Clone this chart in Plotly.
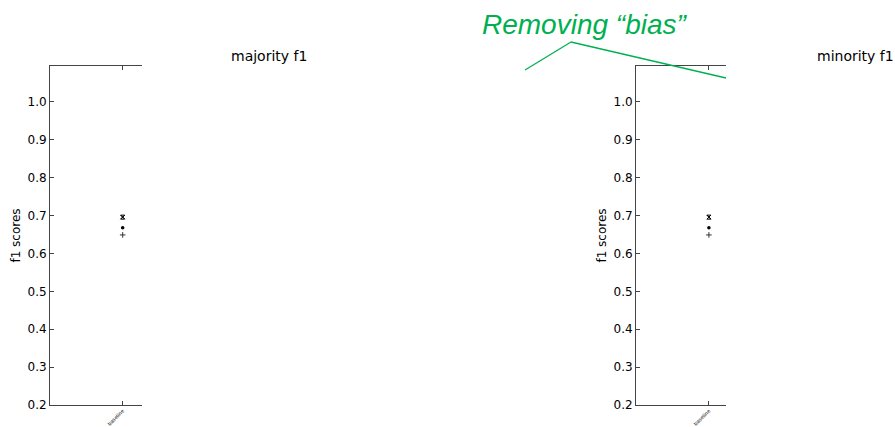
import plotly.graph_objects as go

# Categories and f1 scores per run marker
categories = ["baseline"]
majority_cross = [0.696]
majority_dot = [0.668]
majority_plus = [0.649]
minority_cross = [0.696]
minority_dot = [0.668]
minority_plus = [0.649]

y_ticks = [0.2, 0.3, 0.4, 0.5, 0.6, 0.7, 0.8, 0.9, 1.0]
y_tick_text = ["0.2", "0.3", "0.4", "0.5", "0.6", "0.7", "0.8", "0.9", "1.0"]

W, H = 895, 427


def px_x(p):
    return p / W


def px_y(p):
    return 1 - p / H


fig = go.Figure()

panels = [
    ("x", "y", majority_cross, majority_dot, majority_plus),
    ("x2", "y2", minority_cross, minority_dot, minority_plus),
]
for xa, ya, cross, dot, plus in panels:
    xs = list(range(len(categories)))
    fig.add_trace(go.Scatter(x=xs, y=cross, xaxis=xa, yaxis=ya, mode="markers",
                             marker=dict(symbol="hourglass-open", size=4, color="black",
                                         line=dict(width=1, color="black")),
                             showlegend=False, hoverinfo="skip"))
    fig.add_trace(go.Scatter(x=xs, y=cross, xaxis=xa, yaxis=ya, mode="markers",
                             marker=dict(symbol="x-thin", size=4, color="black",
                                         line=dict(width=1, color="black")),
                             showlegend=False, hoverinfo="skip"))
    fig.add_trace(go.Scatter(x=xs, y=dot, xaxis=xa, yaxis=ya, mode="markers",
                             marker=dict(symbol="circle", size=3.5, color="black"),
                             showlegend=False, hoverinfo="skip"))
    fig.add_trace(go.Scatter(x=xs, y=plus, xaxis=xa, yaxis=ya, mode="markers",
                             marker=dict(symbol="cross-thin", size=4, color="#333333",
                                         line=dict(width=1, color="#333333")),
                             showlegend=False, hoverinfo="skip"))

axis_font = dict(family="DejaVu Sans", size=12, color="black")
line_col = "#444444"

common_x = dict(showline=True, linecolor=line_col, linewidth=1, mirror="ticks",
                ticks="inside", ticklen=4, tickcolor=line_col, showgrid=False, zeroline=False,
                tickvals=[0], ticktext=categories, tickangle=-45, automargin=False,
                tickfont=dict(family="DejaVu Sans", size=5, color="black"), fixedrange=True)
common_y = dict(showline=True, linecolor=line_col, linewidth=1, mirror=False,
                ticks="inside", ticklen=4, tickcolor=line_col, showgrid=False, zeroline=False,
                range=[0.2, 1.095], tickvals=y_ticks, ticktext=y_tick_text,
                tickfont=axis_font, fixedrange=True, automargin=False,
                title=dict(text="f1 scores", font=axis_font, standoff=4))

y_dom = [px_y(405), px_y(66)]

fig.update_layout(
    width=W, height=H,
    margin=dict(l=0, r=0, t=0, b=0, autoexpand=False),
    paper_bgcolor="white", plot_bgcolor="white",
    xaxis=dict(domain=[px_x(50), px_x(142)], range=[-0.79, 0.21], anchor="y", **common_x),
    yaxis=dict(domain=y_dom, anchor="x", **common_y),
    xaxis2=dict(domain=[px_x(636), px_x(726)], range=[-0.81, 0.19], anchor="y2", **common_x),
    yaxis2=dict(domain=y_dom, anchor="x2", **common_y),
)

# Panel titles
fig.add_annotation(x=px_x(269), y=px_y(56), xref="paper", yref="paper", text="majority f1",
                   showarrow=False, font=dict(family="DejaVu Sans", size=14, color="black"),
                   xanchor="center", yanchor="middle")
fig.add_annotation(x=px_x(855), y=px_y(56), xref="paper", yref="paper", text="minority f1",
                   showarrow=False, font=dict(family="DejaVu Sans", size=14, color="black"),
                   xanchor="center", yanchor="middle")

# Callout
green = "#00B050"
fig.add_annotation(x=px_x(585), y=px_y(25), xref="paper", yref="paper",
                   text="<i>Removing “bias”</i>", showarrow=False,
                   font=dict(family="Liberation Sans", size=28, color=green),
                   xanchor="center", yanchor="middle")
fig.add_shape(type="line", xref="paper", yref="paper",
              x0=px_x(525), y0=px_y(70), x1=px_x(571), y1=px_y(42),
              line=dict(color=green, width=1.3))
fig.add_shape(type="line", xref="paper", yref="paper",
              x0=px_x(571), y0=px_y(42), x1=px_x(726), y1=px_y(78),
              line=dict(color=green, width=1.3))

fig.write_html("out.html")
